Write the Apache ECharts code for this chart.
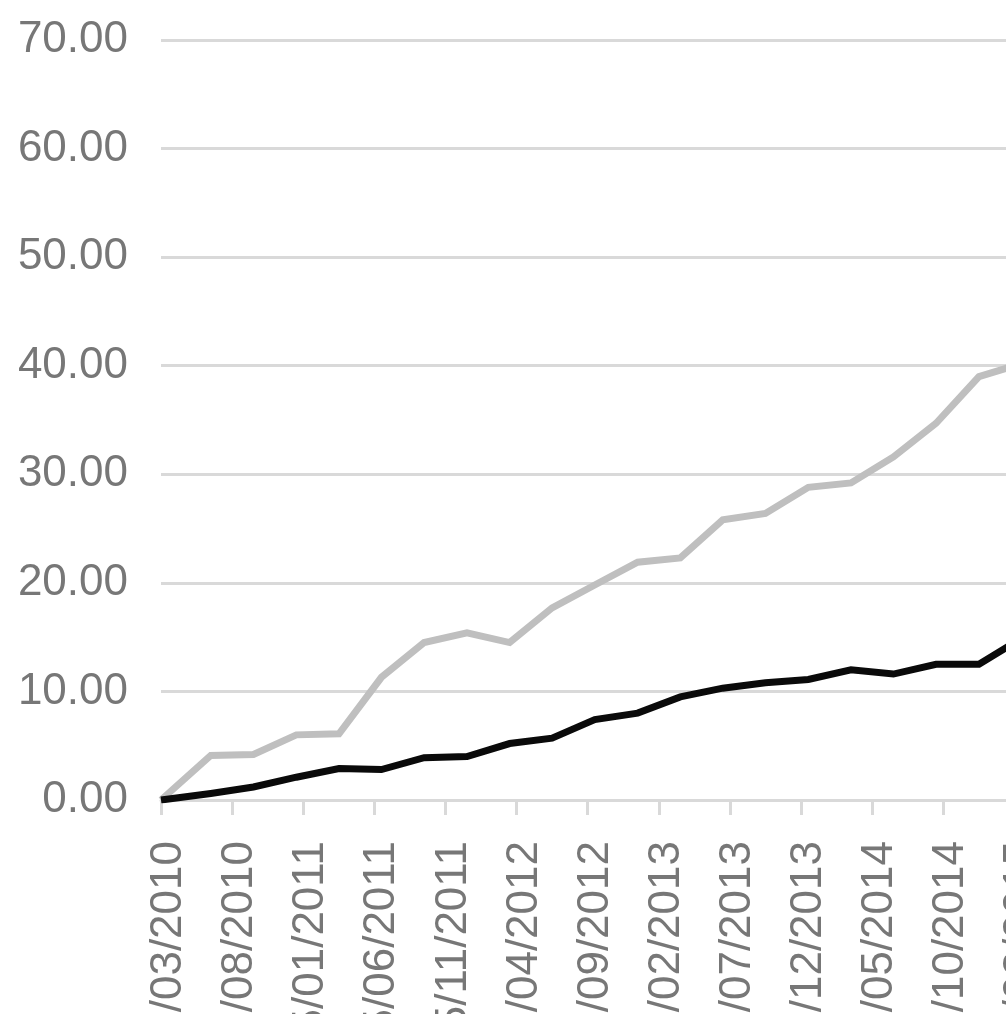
<!DOCTYPE html>
<html>
<head>
<meta charset="utf-8">
<script src="https://cdn.jsdelivr.net/npm/echarts@6/dist/echarts.min.js"></script>
<style>
  html, body { margin: 0; padding: 0; overflow: hidden; background: #ffffff; width: 1006px; height: 1014px; }
  #chart { position: absolute; left: 0; top: 0; width: 1200px; height: 1250px; }
</style>
</head>
<body>
<div id="chart"></div>
<script>
// Observation dates (dd/mm/yyyy)
var dates = ['15/03/2010','30/06/2010','30/09/2010','31/12/2010','31/03/2011','30/06/2011','30/09/2011','31/12/2011',
             '31/03/2012','30/06/2012','30/09/2012','31/12/2012','31/03/2013','30/06/2013','30/09/2013','31/12/2013',
             '31/03/2014','30/06/2014','30/09/2014','31/12/2014','31/03/2015'];
// Grey series
var greyValues = [0, 4.1, 4.2, 6.0, 6.1, 11.3, 14.5, 15.4, 14.5, 17.7, 19.8, 21.9, 22.3, 25.8, 26.4, 28.8, 29.2, 31.6, 34.7, 39.0, 40.2];
// Black series
var blackValues = [0, 0.6, 1.2, 2.1, 2.9, 2.8, 3.9, 4.0, 5.2, 5.7, 7.4, 8.0, 9.5, 10.3, 10.8, 11.1, 12.0, 11.6, 12.5, 12.5, 14.9];
// X tick labels (every 5 months)
var xTickLabels = ['15/03/2010','15/08/2010','15/01/2011','15/06/2011','15/11/2011','15/04/2012','15/09/2012',
                   '15/02/2013','15/07/2013','15/12/2013','15/05/2014','15/10/2014','15/03/2015','15/08/2015'];

// Convert dd/mm/yyyy to months elapsed since 15/03/2010 (axis origin)
function monthOffset(s) {
  var p = s.split('/');
  var d = +p[0], m = +p[1], y = +p[2];
  var dim = new Date(y, m, 0).getDate();
  return (y - 2010) * 12 + (m - 3) + (d - 15) / dim;
}
function pairs(vals) {
  return vals.map(function (v, i) { return [monthOffset(dates[i]), v]; });
}

var labelColor = '#777777';
var gridColor = '#d9d9d9';
var font = '"Liberation Sans", Arial, sans-serif';

var chart = echarts.init(document.getElementById('chart'), null, { renderer: 'canvas' });
chart.setOption({
  animation: false,
  backgroundColor: '#ffffff',
  grid: { left: 161, top: 40, width: 924.4, height: 760, containLabel: false },
  xAxis: {
    type: 'value',
    min: 0, max: 65, interval: 5,
    axisLine: { show: true, lineStyle: { color: gridColor, width: 3 } },
    axisTick: { show: true, length: 15, lineStyle: { color: gridColor, width: 3 } },
    splitLine: { show: false },
    axisLabel: {
      rotate: 90,
      margin: 41,
      color: labelColor,
      fontFamily: font,
      fontSize: 44,
      lineHeight: 16,
      formatter: function (v) { return '\n' + (xTickLabels[Math.round(v / 5)] || ''); }
    }
  },
  yAxis: {
    type: 'value',
    min: 0, max: 70, interval: 10,
    axisLine: { show: false },
    axisTick: { show: false },
    splitLine: { show: true, lineStyle: { color: gridColor, width: 3 } },
    axisLabel: {
      margin: 33,
      color: labelColor,
      fontFamily: font,
      fontSize: 44,
      formatter: function (v) { return v.toFixed(2); }
    }
  },
  series: [
    {
      name: 'Grey', type: 'line', data: pairs(greyValues), showSymbol: false,
      lineStyle: { color: '#bfbfbf', width: 7, join: 'miter' }, itemStyle: { color: '#bfbfbf' }
    },
    {
      name: 'Black', type: 'line', data: pairs(blackValues), showSymbol: false,
      lineStyle: { color: '#0a0a0a', width: 7, join: 'miter' }, itemStyle: { color: '#0a0a0a' }
    }
  ]
});
</script>
</body>
</html>
